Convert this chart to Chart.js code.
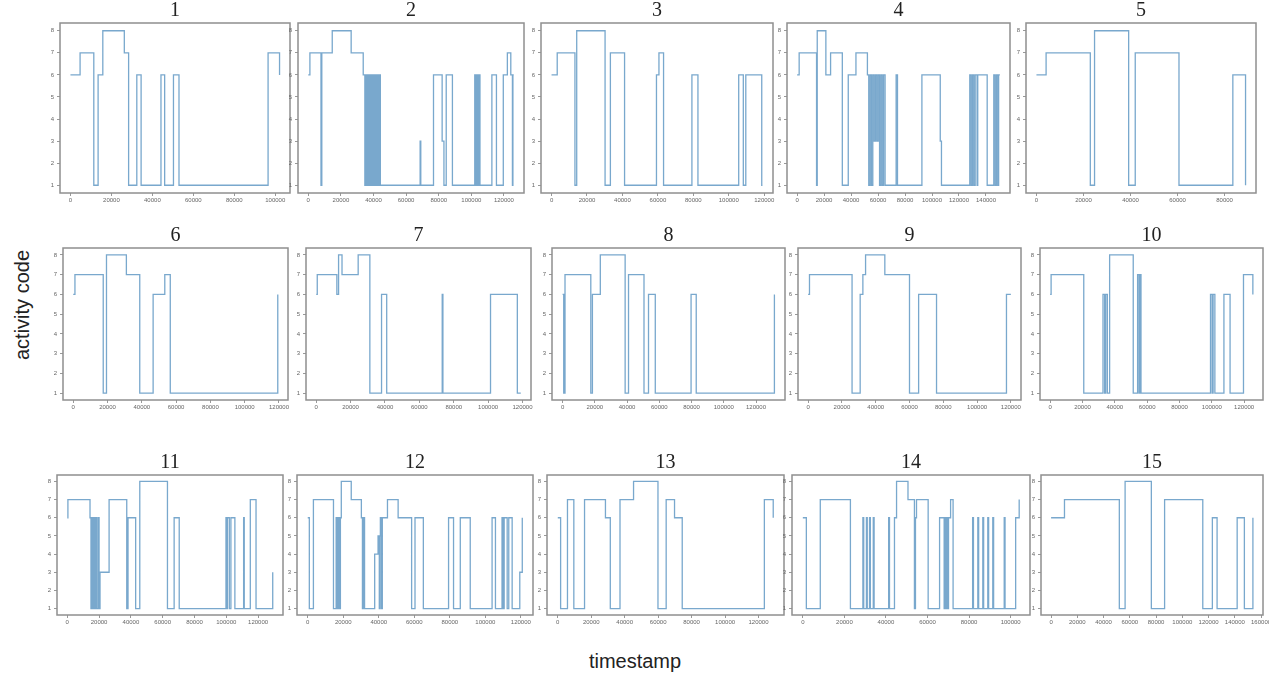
<!DOCTYPE html>
<html>
<head>
<meta charset="utf-8">
<script src="https://cdn.jsdelivr.net/npm/chart.js@4.4.1/dist/chart.umd.min.js"></script>
<style>
  body { margin: 0; background: #fff; width: 1269px; height: 679px; overflow: hidden; position: relative; font-family: 'Liberation Sans', Arial, sans-serif; }
  canvas { position: absolute; }
  #ylab { position: absolute; left: 22px; top: 305px; transform: translate(-50%, -50%) rotate(-90deg); font-size: 20px; color: #222; white-space: nowrap; }
  #xlab { position: absolute; left: 635px; top: 661px; transform: translate(-50%, -50%); font-size: 20px; color: #222; white-space: nowrap; }
</style>
</head>
<body>
<div id="ylab">activity code</div>
<div id="xlab">timestamp</div>
<script>
// tick values shared by all panels
const X_TICKS = [0, 20000, 40000, 60000, 80000, 100000, 120000, 140000, 160000];
const Y_TICKS = [1, 2, 3, 4, 5, 6, 7, 8];
const TITLES = ['1','2','3','4','5','6','7','8','9','10','11','12','13','14','15'];

// [timestamp, activity code] - code holds until the next timestamp
const S1 = [[0,6],[4700,7],[11400,1],[13500,6],[15800,8],[26300,7],[28400,1],[32400,6],[34500,1],[44200,6],[46000,1],[50300,6],[53000,1],[96500,7],[102100,6]];
const S2 = [[0,6],[1000,7],[7800,1],[8300,7],[14700,8],[26300,7],[33700,6],[34700,1],[35000,6],[35300,1],[35600,6],[35900,1],[36200,6],[36500,1],[36800,6],[37500,1],[37700,6],[38300,1],[38600,6],[38900,1],[39300,6],[39600,1],[40000,6],[40300,1],[40700,6],[41000,1],[41400,6],[41700,1],[42100,6],[42400,1],[42800,6],[43100,1],[43500,6],[43800,1],[44000,6],[44200,1],[68600,3],[69000,1],[76800,6],[82100,3],[83200,1],[84600,6],[88400,1],[102100,6],[102500,1],[102800,6],[103200,1],[103500,6],[103900,1],[104200,6],[104600,1],[104900,6],[105300,1],[112600,6],[115400,1],[119600,6],[122100,7],[124200,6],[125200,1],[125500,6],[126000,6]];
const S3 = [[0,6],[3200,7],[13200,1],[14200,8],[30200,1],[33200,7],[41200,1],[59200,6],[60600,7],[63200,1],[79200,6],[82600,1],[105600,6],[108200,1],[109600,6],[118600,1],[119000,1]];
const S4 = [[0,6],[1500,7],[14400,1],[14900,8],[21300,6],[24800,7],[33500,1],[37900,6],[43600,7],[52100,6],[53100,1],[54100,6],[55100,1],[56100,6],[57100,3],[58100,6],[59100,3],[60100,6],[61100,1],[62100,6],[63100,1],[64100,6],[65200,1],[73400,6],[74400,1],[92500,6],[106100,3],[107000,1],[128000,6],[129000,1],[130000,6],[131000,1],[132000,6],[133400,1],[133900,6],[140900,1],[145800,6],[146800,1],[147800,6],[148800,1],[149400,6],[150300,6]];
const S5 = [[0,6],[4100,7],[22900,1],[24700,8],[39200,1],[42000,7],[60600,1],[83500,6],[88900,1]];
const S6 = [[0,6],[1000,7],[17500,1],[19400,8],[31000,7],[38800,1],[46600,6],[53400,7],[56600,1],[119300,6]];
const S7 = [[0,6],[600,7],[12000,6],[13000,8],[15000,7],[24400,8],[31200,1],[38000,6],[41000,1],[73300,6],[73700,1],[101400,6],[117000,1],[119000,1]];
const S8 = [[0,6],[700,1],[1500,7],[17500,1],[18500,6],[23400,8],[38800,1],[40900,7],[50500,1],[53300,6],[57500,1],[79700,6],[82900,1],[131400,6]];
const S9 = [[0,6],[800,7],[26000,1],[30800,6],[32400,7],[34000,8],[45400,7],[60000,1],[65400,6],[76000,1],[117400,6],[120000,6]];
const S10 = [[0,6],[600,7],[20800,1],[32700,6],[33700,1],[34400,6],[35400,1],[36800,8],[51400,1],[54100,7],[55000,1],[55400,7],[56200,1],[99200,6],[100200,1],[100800,6],[101900,1],[107500,6],[111300,1],[119600,7],[125400,6]];
const S11 = [[0,6],[400,7],[14300,6],[14900,1],[15500,6],[16100,1],[16700,6],[17300,1],[17900,6],[18500,1],[19400,6],[20000,1],[20600,3],[26300,7],[37400,1],[38200,6],[43000,1],[45600,8],[63000,1],[67200,6],[70400,1],[99800,6],[100300,1],[100700,6],[101900,1],[102900,6],[105400,1],[110900,6],[111300,1],[115100,7],[118700,1],[129200,3]];
const S12 = [[0,6],[900,1],[3200,7],[14500,1],[16000,6],[16600,1],[17200,6],[17800,1],[18400,6],[18900,8],[24500,7],[30200,6],[30800,1],[31500,6],[32000,1],[37700,4],[39600,5],[40300,1],[40700,5],[40900,6],[41500,1],[42000,6],[44900,7],[50900,6],[58500,1],[60400,6],[65100,1],[79300,6],[82100,1],[85900,6],[91500,1],[103800,6],[105700,1],[109400,6],[110000,1],[110600,6],[112300,1],[113200,6],[115100,1],[119400,3],[120800,6]];
const S13 = [[0,6],[1700,1],[5800,7],[9600,1],[16000,7],[28500,6],[31400,1],[37200,7],[45300,8],[59900,1],[64800,7],[69800,6],[74400,1],[123500,7],[128800,6]];
const S14 = [[0,6],[1700,1],[8400,7],[22900,1],[28900,6],[29300,1],[30600,6],[31000,1],[32100,6],[32500,1],[33900,6],[34300,1],[41300,6],[41700,1],[44100,6],[45100,8],[50600,7],[53700,1],[54200,6],[54700,7],[60300,1],[65800,6],[68000,1],[68300,6],[68600,1],[68900,6],[69200,1],[69500,6],[69800,1],[70100,6],[71100,7],[72300,1],[81700,6],[82100,1],[84200,6],[84600,1],[86600,6],[87000,1],[89000,6],[89400,1],[91400,6],[91800,1],[96900,6],[97300,1],[102400,6],[104100,7]];
const S15 = [[0,6],[10200,7],[52000,1],[56400,8],[76400,1],[86500,7],[115600,1],[122900,6],[126500,1],[141800,6],[147300,1],[153800,6]];

const SERIES = [S1, S2, S3, S4, S5, S6, S7, S8, S9, S10, S11, S12, S13, S14, S15];

// plot frame of each panel on the page: left, top, right, bottom
const BOXES = [
  [60, 23, 290, 193], [298, 23, 524, 193], [541, 23, 773, 193], [787, 23, 1010, 193], [1026, 23, 1256, 193],
  [63, 248, 288, 400], [306, 248, 531, 400], [552, 248, 785, 400], [798, 248, 1021, 400], [1040, 248, 1263, 400],
  [57, 475, 283, 615], [297, 475, 533, 615], [547, 475, 784, 615], [792, 475, 1030, 615], [1041, 475, 1263, 615]
];

const YW = 20, XH = 18, TH = 24, RP = 14;
const LINE = '#79a8cd';

const framePlugin = {
  id: 'frame',
  afterDatasetsDraw(chart) {
    const a = chart.chartArea, c = chart.ctx;
    c.save();
    c.strokeStyle = '#8f8f8f';
    c.lineWidth = 1.5;
    c.strokeRect(a.left, a.top, a.right - a.left, a.bottom - a.top);
    c.restore();
  }
};

function tickSetter(list) {
  return (axis) => { axis.ticks = list.filter(v => v >= axis.min && v <= axis.max).map(v => ({ value: v })); };
}

SERIES.forEach((s, i) => {
  const [l, t, r, b] = BOXES[i];
  const w = r - l + YW + RP, h = b - t + TH + XH;
  const cv = document.createElement('canvas');
  cv.width = w; cv.height = h;
  cv.style.left = (l - YW) + 'px'; cv.style.top = (t - TH) + 'px';
  cv.style.width = w + 'px'; cv.style.height = h + 'px';
  document.body.appendChild(cv);

  const end = s[s.length - 1][0];
  new Chart(cv, {
    type: 'line',
    data: { datasets: [{ data: s.map(p => ({ x: p[0], y: p[1] })), stepped: true, borderColor: LINE, borderWidth: 1.3, pointRadius: 0, fill: false }] },
    options: {
      responsive: false, animation: false, devicePixelRatio: 1,
      layout: { padding: { left: 0, right: RP, top: 0, bottom: 0 } },
      plugins: {
        legend: { display: false }, tooltip: { enabled: false },
        title: { display: true, text: TITLES[i], fullSize: false, color: '#222', padding: { top: 0, bottom: 0 }, font: { family: "'Liberation Serif', 'DejaVu Serif', serif", size: 20, weight: 'normal' } }
      },
      scales: {
        x: {
          type: 'linear', min: -0.05 * end, max: 1.05 * end,
          afterBuildTicks: tickSetter(X_TICKS),
          afterFit: (sc) => { sc.height = XH; sc.paddingLeft = 0; sc.paddingRight = 0; },
          ticks: { autoSkip: false, maxRotation: 0, padding: 1, color: '#666', font: { size: 6 }, callback: v => String(v) },
          grid: { drawOnChartArea: false, tickLength: 3, color: '#999' },
          border: { display: false }
        },
        y: {
          min: 0.65, max: 8.35,
          afterBuildTicks: tickSetter(Y_TICKS),
          afterFit: (sc) => { sc.width = YW; sc.paddingTop = 0; sc.paddingBottom = 0; },
          ticks: { autoSkip: false, padding: 3, color: '#666', font: { size: 6 }, callback: v => String(v) },
          grid: { drawOnChartArea: false, tickLength: 3, color: '#999' },
          border: { display: false }
        }
      }
    },
    plugins: [framePlugin]
  });
});
</script>
</body>
</html>
